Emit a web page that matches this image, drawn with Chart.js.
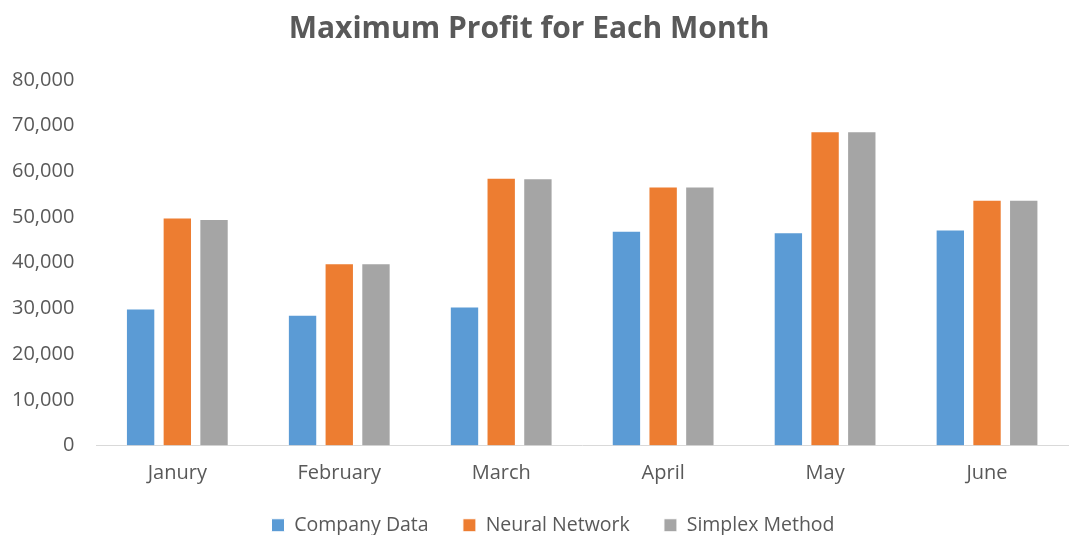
<!DOCTYPE html>
<html>
<head>
<meta charset="utf-8">
<script src="https://cdn.jsdelivr.net/npm/chart.js@4/dist/chart.umd.min.js"></script>
<style>
  html, body { margin: 0; padding: 0; background: #fff; }
  #wrap { width: 1070px; height: 535px; }
</style>
</head>
<body>
<div id="wrap"><canvas id="profitChart"></canvas></div>
<script>
const months = ["Janury", "February", "March", "April", "May", "June"];
const companyData = [30000, 28600, 30400, 47000, 46700, 47300];
const neuralNetwork = [49900, 39900, 58600, 56700, 68800, 53800];
const simplexMethod = [49600, 39900, 58500, 56700, 68800, 53800];
const seriesNames = ["Company Data", "Neural Network", "Simplex Method"];
const seriesColors = ["#5B9BD5", "#ED7D31", "#A5A5A5"];

const textColor = "#595959";
const fontFamily = "'Open Sans', 'Liberation Sans', sans-serif";

const datasets = [companyData, neuralNetwork, simplexMethod].map((values, i) => ({
    label: seriesNames[i],
    data: values,
    backgroundColor: seriesColors[i],
    borderColor: "#ffffff",
    borderWidth: 1,
    categoryPercentage: 0.68,
    barPercentage: 0.8
}));

// legend sits a bit right of the canvas centre in the original
const legendShift = {
    id: "legendShift",
    afterLayout(chart) {
        chart.legend.left += 24;
        chart.legend.right += 24;
    }
};

new Chart(document.getElementById("profitChart"), {
    type: "bar",
    data: { labels: months, datasets },
    options: {
        responsive: true,
        maintainAspectRatio: false,
        animation: false,
        layout: { padding: { left: -10, right: 2, top: 4, bottom: -10 } },
        plugins: {
            title: {
                display: true,
                text: "Maximum Profit for Each Month",
                color: textColor,
                font: { family: fontFamily, size: 30, weight: "bold" },
                padding: { top: 7, bottom: 33 }
            },
            legend: {
                position: "bottom",
                labels: {
                    color: textColor,
                    font: { family: fontFamily, size: 19.5 },
                    boxWidth: 13,
                    boxHeight: 13,
                    padding: 14,
                    generateLabels(chart) {
                        const items = Chart.defaults.plugins.legend.labels.generateLabels(chart);
                        // extra room between entries, like the original
                        items.forEach((it, i) => {
                            if (i < items.length - 1) it.text += "    ";
                        });
                        return items;
                    }
                }
            },
            tooltip: { enabled: false }
        },
        scales: {
            x: {
                grid: { display: false, drawTicks: false },
                border: { display: true, color: "#d9d9d9", width: 1 },
                ticks: {
                    color: textColor,
                    font: { family: fontFamily, size: 20 },
                    padding: 16
                }
            },
            y: {
                min: 0,
                max: 80000,
                grid: { display: false, drawTicks: false },
                border: { display: false },
                ticks: {
                    stepSize: 10000,
                    color: textColor,
                    font: { family: fontFamily, size: 20 },
                    padding: 22,
                    callback: v => v.toLocaleString("en-US")
                }
            }
        }
    },
    plugins: [legendShift]
});
</script>
</body>
</html>
